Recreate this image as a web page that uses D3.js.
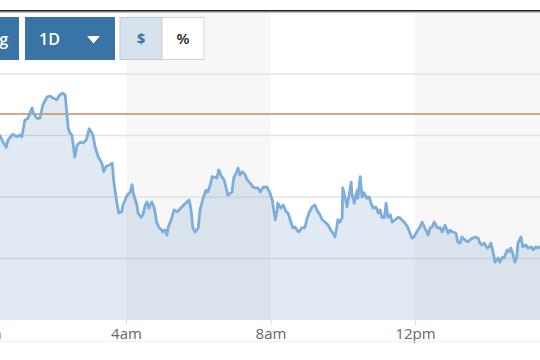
<!DOCTYPE html>
<html><head><meta charset="utf-8">
<script src="https://cdn.jsdelivr.net/npm/d3@7"></script>
<style>html,body{margin:0;padding:0;background:#fff;overflow:hidden}svg{display:block}</style>
</head><body><svg id="c" width="540" height="360"></svg>
<script>
// ---- data ----
const timeTicks = [0, 240, 480, 720];               // minutes after midnight
const tickLabels = ["12am", "4am", "8am", "12pm"];
const gridValues = [1, 2, 3, 4];
const referencePrice = 3.35;
const shadedBandStarts = [240, 720];               // 4-hour shaded bands
const rangeButtons = ["Charting", "1D"];
const unitButtons = ["$", "%"];

const times = [
  30,36,41,44,52,59,64,67,72,77,
  84,86,92,97,102,109,114,119,125,130,
  135,139,142,144,147,150,152,155,159,164,
  169,174,179,185,189,194,200,203,207,213,
  217,220,225,228,233,235,242,247,250,252,
  258,260,265,268,272,275,278,283,287,291,
  295,300,301,305,308,310,316,320,325,328,
  333,341,345,348,351,355,360,363,368,373,
  376,380,383,391,394,399,403,408,409,416,
  419,424,426,429,433,438,441,446,451,454,
  459,463,468,474,479,483,484,488,491,492,
  497,501,506,509,514,517,521,524,527,532,
  537,541,544,549,554,557,562,566,571,576,
  580,584,587,590,592,595,599,600,605,607,
  610,614,615,619,624,625,629,632,635,640,
  644,647,650,655,659,662,665,669,672,675,
  679,682,687,692,695,698,703,708,715,718,
  723,728,732,737,742,745,748,752,757,762,
  765,770,775,778,783,788,791,795,798,803,
  808,811,815,820,825,828,831,835,840,843,
  846,850,853,858,861,865,868,873,876,879,
  883,886,889,891,896,899,904,908,913,916,
  921,924,928
];
const prices = [
  3.01,2.89,2.81,2.93,3.02,2.98,3.01,2.98,3.25,3.28,
  3.45,3.37,3.28,3.28,3.50,3.63,3.64,3.61,3.58,3.66,
  3.69,3.66,3.33,3.12,3.04,3.01,2.88,2.65,2.85,2.89,
  2.88,2.93,3.11,3.01,2.80,2.65,2.55,2.41,2.50,2.52,
  2.55,2.23,1.90,1.74,1.76,1.87,2.03,2.08,2.20,2.07,
  1.87,1.74,1.67,1.71,1.87,1.92,1.82,1.92,1.82,1.59,
  1.50,1.46,1.43,1.46,1.38,1.50,1.66,1.79,1.76,1.79,
  1.84,1.92,1.95,1.79,1.50,1.43,1.50,1.79,1.98,2.11,
  2.08,2.20,2.33,2.31,2.44,2.33,2.28,2.08,2.03,2.08,
  2.31,2.41,2.47,2.36,2.41,2.36,2.28,2.23,2.16,2.15,
  2.15,2.08,2.16,2.16,2.07,1.95,1.87,1.63,1.79,1.90,
  1.82,1.87,1.76,1.74,1.59,1.50,1.51,1.46,1.43,1.50,
  1.50,1.66,1.74,1.84,1.87,1.79,1.71,1.63,1.59,1.54,
  1.46,1.41,1.35,1.50,1.63,1.59,1.66,2.15,1.95,1.84,
  2.00,2.24,2.07,1.90,2.11,1.98,2.33,2.00,2.07,1.98,
  2.00,1.90,1.82,1.84,1.74,1.79,1.67,1.66,1.90,1.67,
  1.71,1.59,1.63,1.67,1.66,1.63,1.58,1.51,1.33,1.35,
  1.43,1.51,1.59,1.48,1.38,1.50,1.51,1.59,1.50,1.50,
  1.43,1.54,1.41,1.46,1.43,1.41,1.27,1.25,1.35,1.30,
  1.27,1.30,1.33,1.35,1.33,1.25,1.22,1.25,1.17,1.19,
  1.25,1.09,0.94,1.01,0.94,1.02,1.01,1.14,1.11,1.17,
  1.06,0.94,1.02,1.25,1.35,1.19,1.22,1.17,1.19,1.14,
  1.19,1.17,1.19
];

// ---- chart ----
const W = 540, H = 360;
const svg = d3.select("#c");
const x = d3.scaleLinear().domain([240, 720]).range([126, 415]);
const y = d3.scaleLinear().domain([0, 5]).range([320, 12.5]);
const data = times.map((t, i) => ({t, p: prices[i]}));

svg.append("defs").append("clipPath").attr("id", "plot")
  .append("rect").attr("x", 0).attr("y", y(5)).attr("width", W).attr("height", y(0) - y(5));

const plot = svg.append("g").attr("clip-path", "url(#plot)");

// shaded bands
plot.selectAll("rect.band").data(shadedBandStarts).join("rect")
  .attr("class", "band")
  .attr("x", d => x(d)).attr("width", d => x(d + 240) - x(d))
  .attr("y", y(5)).attr("height", y(0) - y(5))
  .attr("fill", "#f7f7f7");

// gridlines
plot.selectAll("line.grid").data(gridValues).join("line")
  .attr("class", "grid")
  .attr("x1", 0).attr("x2", W)
  .attr("y1", d => y(d)).attr("y2", d => y(d))
  .attr("stroke", "#e3e3e3").attr("stroke-width", 1.5);

// area
plot.append("path").datum(data)
  .attr("d", d3.area().x(d => x(d.t)).y0(y(0)).y1(d => y(d.p)))
  .attr("fill", "rgba(55,115,168,0.15)");

// reference line
plot.append("line")
  .attr("x1", 0).attr("x2", W)
  .attr("y1", y(referencePrice)).attr("y2", y(referencePrice))
  .attr("stroke", "#d4895a").attr("stroke-width", 1.5);

// price line
plot.append("path").datum(data)
  .attr("d", d3.line().x(d => x(d.t)).y(d => y(d.p)))
  .attr("fill", "none").attr("stroke", "#7aaede")
  .attr("stroke-width", 2.8).attr("stroke-linejoin", "round");

// x axis
const ax = svg.append("g").attr("transform", `translate(0,${y(0)})`)
  .call(d3.axisBottom(x).tickValues(timeTicks).tickSize(5)
    .tickFormat((d, i) => tickLabels[i]));
ax.select(".domain").remove();
ax.selectAll(".tick line").attr("stroke", "#dddddd");
ax.selectAll(".tick text").attr("fill", "#666").attr("font-size", 15)
  .attr("font-family", "'Open Sans', sans-serif");

svg.append("line").attr("x1", 0).attr("x2", W).attr("y1", 341.5).attr("y2", 341.5)
  .attr("stroke", "#f0f0f0").attr("stroke-width", 1);

// top border
svg.append("rect").attr("x", 0).attr("y", 10).attr("width", W).attr("height", 1.6).attr("fill", "#1e2226");
svg.append("rect").attr("x", 0).attr("y", 11.6).attr("width", W).attr("height", 0.9).attr("fill", "#7a828a");

// toolbar buttons
const blue = "#3a74a6";
const tb = svg.append("g").attr("font-family", "'Open Sans', sans-serif");
tb.append("rect").attr("x", -90).attr("y", 17).attr("width", 109).attr("height", 43).attr("fill", blue);
tb.append("text").attr("x", 8).attr("y", 45).attr("text-anchor", "end")
  .attr("fill", "#fff").attr("font-size", 16).attr("font-weight", 600).text(rangeButtons[0]);
tb.append("rect").attr("x", 25).attr("y", 17).attr("width", 90).attr("height", 43).attr("fill", blue);
tb.append("text").attr("x", 39).attr("y", 45)
  .attr("fill", "#fff").attr("font-size", 16).attr("font-weight", 600).text(rangeButtons[1]);
tb.append("path").attr("d", "M87,36 L100,36 L93.5,43.5 Z").attr("fill", "#fff");

tb.append("rect").attr("x", 120).attr("y", 17.5).attr("width", 42).attr("height", 42)
  .attr("fill", "#d6e2ed").attr("stroke", "#b7cadb");
tb.append("rect").attr("x", 162).attr("y", 17.5).attr("width", 42).attr("height", 42)
  .attr("fill", "#fff").attr("stroke", "#c9d6e2");
tb.append("text").attr("x", 141).attr("y", 44).attr("text-anchor", "middle")
  .attr("fill", blue).attr("font-size", 15).attr("font-weight", 700).text(unitButtons[0]);
tb.append("text").attr("x", 183).attr("y", 44).attr("text-anchor", "middle")
  .attr("fill", "#222").attr("font-size", 15).attr("font-weight", 600).text(unitButtons[1]);
</script></body></html>
